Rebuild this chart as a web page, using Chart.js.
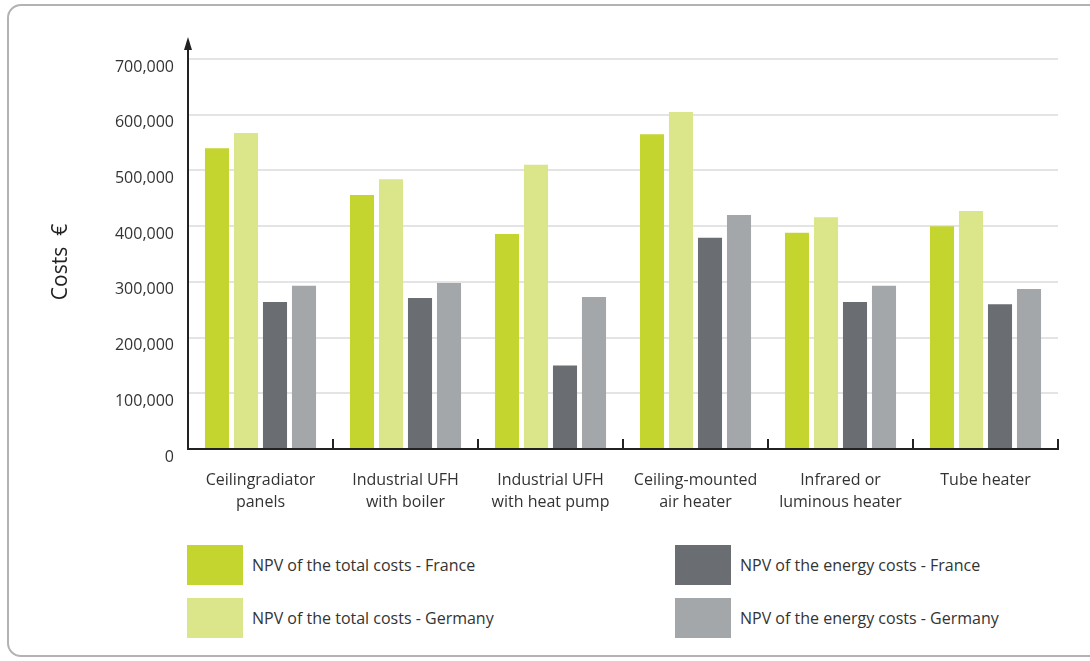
<!DOCTYPE html>
<html>
<head>
<meta charset="utf-8">
<script src="https://cdn.jsdelivr.net/npm/chart.js@4.4.0/dist/chart.umd.min.js"></script>
<style>
body { margin:0; width:1090px; height:661px; overflow:hidden; background:#fff; font-family:"Open Sans", sans-serif; }
#card { position:absolute; left:7px; top:4px; width:1120px; height:653px; border:2px solid #b3b3b3; border-radius:14px; box-sizing:border-box; }
#myChart { position:absolute; left:0; top:0; }
.lg { position:absolute; display:flex; align-items:center; font-size:16px; color:#333; }
.lg span { display:inline-block; width:56px; height:40px; margin-right:9px; }
</style>
</head>
<body>
<div id="card"></div>
<canvas id="myChart" width="1090" height="520"></canvas>
<div id="legend"></div>
<script>
// data
var categories = [["Ceilingradiator", "panels"], ["Industrial UFH", "with boiler"], ["Industrial UFH", "with heat pump"],
  ["Ceiling-mounted", "air heater"], ["Infrared or", "luminous heater"], ["Tube heater"]];
var totalFrance = [540000, 456000, 386000, 565000, 388000, 400000];
var totalGermany = [567000, 484000, 510000, 605000, 416000, 427000];
var energyFrance = [264000, 271000, 150000, 379000, 264000, 260000];
var energyGermany = [293000, 298000, 273000, 420000, 293000, 287000];
var yTicks = [0, 100000, 200000, 300000, 400000, 500000, 600000, 700000];
var seriesNames = ["NPV of the total costs - France", "NPV of the total costs - Germany",
  "NPV of the energy costs - France", "NPV of the energy costs - Germany"];
var colors = ["#c5d530", "#dbe589", "#6a6d71", "#a4a7aa"];

// legend, 2 columns like the original
var legendPos = [[187, 545], [187, 598], [675, 545], [675, 598]];
var legend = document.getElementById("legend");
seriesNames.forEach((name, i) => {
  var d = document.createElement("div");
  d.className = "lg";
  d.style.left = legendPos[i][0] + "px";
  d.style.top = legendPos[i][1] + "px";
  d.innerHTML = '<span style="background:' + colors[i] + '"></span>' + name;
  legend.appendChild(d);
});

// arrow on the y axis, tick marks between groups, axis title
var extras = {
  id: "extras",
  afterDraw(chart) {
    var c = chart.ctx;
    var area = chart.chartArea;
    var x = chart.scales.x;
    c.save();
    c.strokeStyle = "#222";
    c.fillStyle = "#222";
    c.lineWidth = 2;
    c.beginPath();
    c.moveTo(area.left, area.top);
    c.lineTo(area.left, 44);
    c.stroke();
    c.beginPath();
    c.moveTo(area.left, 37);
    c.lineTo(area.left - 4, 50);
    c.lineTo(area.left + 4, 50);
    c.closePath();
    c.fill();

    var half = (x.getPixelForValue(1) - x.getPixelForValue(0)) / 2;
    for (var i = 0; i < categories.length; i++) {
      var px = x.getPixelForValue(i) + half;
      c.beginPath();
      c.moveTo(px, area.bottom - 10);
      c.lineTo(px, area.bottom);
      c.stroke();
    }

    c.translate(61, 262);
    c.rotate(-Math.PI / 2);
    c.font = "21px 'Open Sans'";
    c.textAlign = "center";
    c.textBaseline = "middle";
    c.fillText("Costs  \u20ac", 0, 0);
    c.restore();
  }
};

var ctx = document.getElementById('myChart').getContext('2d');
var chart = new Chart(ctx, {
  type: 'bar',
  data: {
    labels: categories,
    datasets: [
      { label: seriesNames[0], data: totalFrance, backgroundColor: colors[0] },
      { label: seriesNames[1], data: totalGermany, backgroundColor: colors[1] },
      { label: seriesNames[2], data: energyFrance, backgroundColor: colors[2] },
      { label: seriesNames[3], data: energyGermany, backgroundColor: colors[3] }
    ]
  },
  options: {
    responsive: false,
    animation: false,
    categoryPercentage: 0.8,
    barPercentage: 0.83,
    layout: { padding: { top: 59, right: 32, left: 0, bottom: 0 } },
    plugins: { legend: { display: false }, tooltip: { enabled: false } },
    scales: {
      x: {
        grid: { display: false },
        border: { display: true, color: "#222", width: 2 },
        ticks: { color: "#333", font: { family: "Open Sans", size: 16, lineHeight: 1.4 }, padding: 12, maxRotation: 0, autoSkip: false },
        afterFit: (s) => { s.height = 71; }
      },
      y: {
        min: 0,
        max: 700000,
        afterBuildTicks: (s) => { s.ticks = yTicks.map(v => ({ value: v })); },
        grid: { color: "#e4e4e4", lineWidth: 2, drawTicks: false },
        border: { display: true, color: "#222", width: 2 },
        ticks: {
          color: "#333",
          font: { family: "Open Sans", size: 16 },
          padding: 14,
          labelOffset: 8,
          callback: (v) => v.toLocaleString('en-US')
        },
        afterFit: (s) => { s.width = 188; }
      }
    }
  },
  plugins: [extras]
});
</script>
</body>
</html>
